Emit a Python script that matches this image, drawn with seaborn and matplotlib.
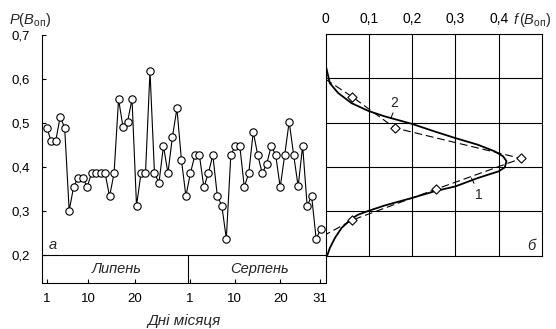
import numpy as np
import pandas as pd
import matplotlib
matplotlib.use("Agg")
import matplotlib.pyplot as plt
import seaborn as sns

# ---------------- data ----------------
# daily values P(B_оп), 1 July .. 31 August (62 days)
p_values = [0.489, 0.459, 0.459, 0.514, 0.489, 0.301, 0.355, 0.376, 0.376, 0.355,
            0.386, 0.386, 0.386, 0.386, 0.333, 0.386, 0.554, 0.490, 0.503, 0.554,
            0.312, 0.386, 0.386, 0.618, 0.386, 0.364, 0.448, 0.386, 0.469, 0.533,
            0.416, 0.334, 0.386, 0.427, 0.427, 0.354, 0.386, 0.427, 0.334, 0.312,
            0.237, 0.427, 0.448, 0.448, 0.355, 0.386, 0.480, 0.427, 0.386, 0.407,
            0.448, 0.427, 0.354, 0.427, 0.503, 0.427, 0.356, 0.448, 0.312, 0.334,
            0.237, 0.258]
day_index = list(range(len(p_values)))

day_tick_labels = ["1", "10", "20", "1", "10", "20", "31"]
day_tick_pos = [0, 9.2, 19.7, 31.9, 41.9, 52.0, 60.9]
month_labels = ["Липень", "Серпень"]
month_split = 31.45

y_ticks = [0.2, 0.3, 0.4, 0.5, 0.6, 0.7]
f_ticks = [0.0, 0.1, 0.2, 0.3, 0.4]

# curve 1: fitted density f(B) (solid)
curve1_f = [0.002, 0.010, 0.029, 0.060, 0.100, 0.137, 0.200, 0.252, 0.300, 0.352,
            0.391, 0.410, 0.418, 0.414, 0.400, 0.352, 0.300, 0.252, 0.200, 0.137,
            0.100, 0.075, 0.060, 0.037, 0.022, 0.010, 0.004]
curve1_B = [0.623, 0.589, 0.567, 0.544, 0.526, 0.514, 0.497, 0.480, 0.465, 0.450,
            0.435, 0.424, 0.413, 0.399, 0.390, 0.375, 0.356, 0.345, 0.330, 0.313,
            0.301, 0.292, 0.283, 0.262, 0.240, 0.217, 0.200]

# curve 2: empirical frequency polygon (dashed, diamonds)
curve2_f = [0.000, 0.062, 0.160, 0.452, 0.256, 0.062, 0.000]
curve2_B = [0.598, 0.558, 0.488, 0.419, 0.350, 0.280, 0.247]
diamond_f = curve2_f[1:-1]
diamond_B = curve2_B[1:-1]

# ---------------- style ----------------
sns.set_style("white")
plt.rcParams["font.family"] = ["Liberation Sans", "DejaVu Sans"]
plt.rcParams["mathtext.fontset"] = "custom"
plt.rcParams["mathtext.rm"] = "Liberation Sans"
plt.rcParams["mathtext.it"] = "Liberation Sans:italic"
plt.rcParams["axes.linewidth"] = 0.8

W, H = 556, 329
fig = plt.figure(figsize=(W / 100, H / 100), dpi=100)

def frac(x0, y0, x1, y1):
    return [x0 / W, 1 - y1 / H, (x1 - x0) / W, (y1 - y0) / H]

y_top, y_bot_plot, y_bot_band = 0.7, 0.2, 0.1364

# ---------------- left panel ----------------
ax1 = fig.add_axes(frac(42, 35, 326, 283))
df = pd.DataFrame({"day": day_index, "p": p_values})
sns.lineplot(data=df, x="day", y="p", ax=ax1, color="black", lw=0.8,
             marker="o", markersize=5.3, markerfacecolor="white",
             markeredgecolor="black", markeredgewidth=0.8)
ax1.set_xlim(-1.05, 62.2)
ax1.set_ylim(y_bot_band, y_top)
ax1.set_xlabel("")
ax1.set_ylabel("")
ax1.spines["top"].set_visible(False)
ax1.spines["left"].set_bounds(y_bot_band, y_top)
ax1.spines["right"].set_bounds(y_bot_band, y_bot_plot)
for s in ax1.spines.values():
    s.set_color("black")
    s.set_linewidth(0.8)
ax1.axhline(y_bot_plot, color="black", lw=0.8)
ax1.plot([month_split, month_split], [y_bot_band, y_bot_plot], color="black", lw=0.8)

ax1.set_yticks(y_ticks)
ax1.set_yticklabels([f"{v:.1f}".replace(".", ",") for v in y_ticks])
ax1.set_xticks(day_tick_pos)
ax1.set_xticklabels(day_tick_labels)
ax1.tick_params(axis="both", direction="in", length=3, width=0.8,
                colors="black", labelsize=9.5)
ax1.tick_params(axis="y", pad=9, left=True)
ax1.tick_params(axis="x", pad=7, bottom=True)

ax1.text(15.5, (y_bot_band + y_bot_plot) / 2, month_labels[0], ha="center",
         va="center", fontsize=10.5, style="italic")
ax1.text(47.5, (y_bot_band + y_bot_plot) / 2, month_labels[1], ha="center",
         va="center", fontsize=10.5, style="italic")
ax1.text(1.4, 0.223, "а", ha="center", va="center", fontsize=10.5, style="italic")

fig.text(184 / W, 1 - 321 / H, "Дні місяця", ha="center", va="center",
         fontsize=11, style="italic")
fig.text(9 / W, 1 - 20 / H, r"$\mathit{P}(\mathit{B}_{\mathrm{оп}})$",
         ha="left", va="center", fontsize=10.5)

# ---------------- right panel ----------------
ax2 = fig.add_axes(frac(325.5, 34, 542, 255.5))
ax2.set_xlim(0, 0.5)
ax2.set_ylim(y_bot_plot, y_top)
for v in [0.1, 0.2, 0.3, 0.4]:
    ax2.axvline(v, color="black", lw=0.8, zorder=1)
for v in [0.3, 0.4, 0.5, 0.6]:
    ax2.axhline(v, color="black", lw=0.8, zorder=1)

sns.lineplot(x=curve1_f, y=curve1_B, sort=False, estimator=None, ax=ax2,
             color="black", lw=1.3, zorder=3)
sns.lineplot(x=curve2_f, y=curve2_B, sort=False, estimator=None, ax=ax2,
             color="black", lw=0.8, linestyle=(0, (7, 3.5)), zorder=3)
sns.scatterplot(x=diamond_f, y=diamond_B, ax=ax2, marker="D", s=22,
                facecolor="white", edgecolor="black", linewidth=0.8, zorder=4)

ax2.plot([0.337, 0.343], [0.375, 0.363], color="black", lw=0.7)
ax2.text(0.353, 0.337, "1", ha="center", va="center", fontsize=10)
ax2.plot([0.156, 0.151], [0.522, 0.510], color="black", lw=0.7)
ax2.text(0.158, 0.545, "2", ha="center", va="center", fontsize=10)
ax2.text(0.475, 0.222, "б", ha="center", va="center", fontsize=10.5, style="italic")

ax2.xaxis.tick_top()
ax2.set_xticks(f_ticks)
ax2.set_xticklabels(["0"] + [f"{v:.1f}".replace(".", ",") for v in f_ticks[1:]])
ax2.set_yticks([])
ax2.tick_params(axis="x", length=0, pad=6, labelsize=10, colors="black")
for s in ax2.spines.values():
    s.set_color("black")
    s.set_linewidth(0.8)
ax2.set_xlabel("")
ax2.set_ylabel("")

fig.text(513 / W, 1 - 20 / H, r"$\mathit{f}\,(\mathit{B}_{\mathrm{оп}})$",
         ha="left", va="center", fontsize=10.5)

fig.savefig("out.png", dpi=100)
